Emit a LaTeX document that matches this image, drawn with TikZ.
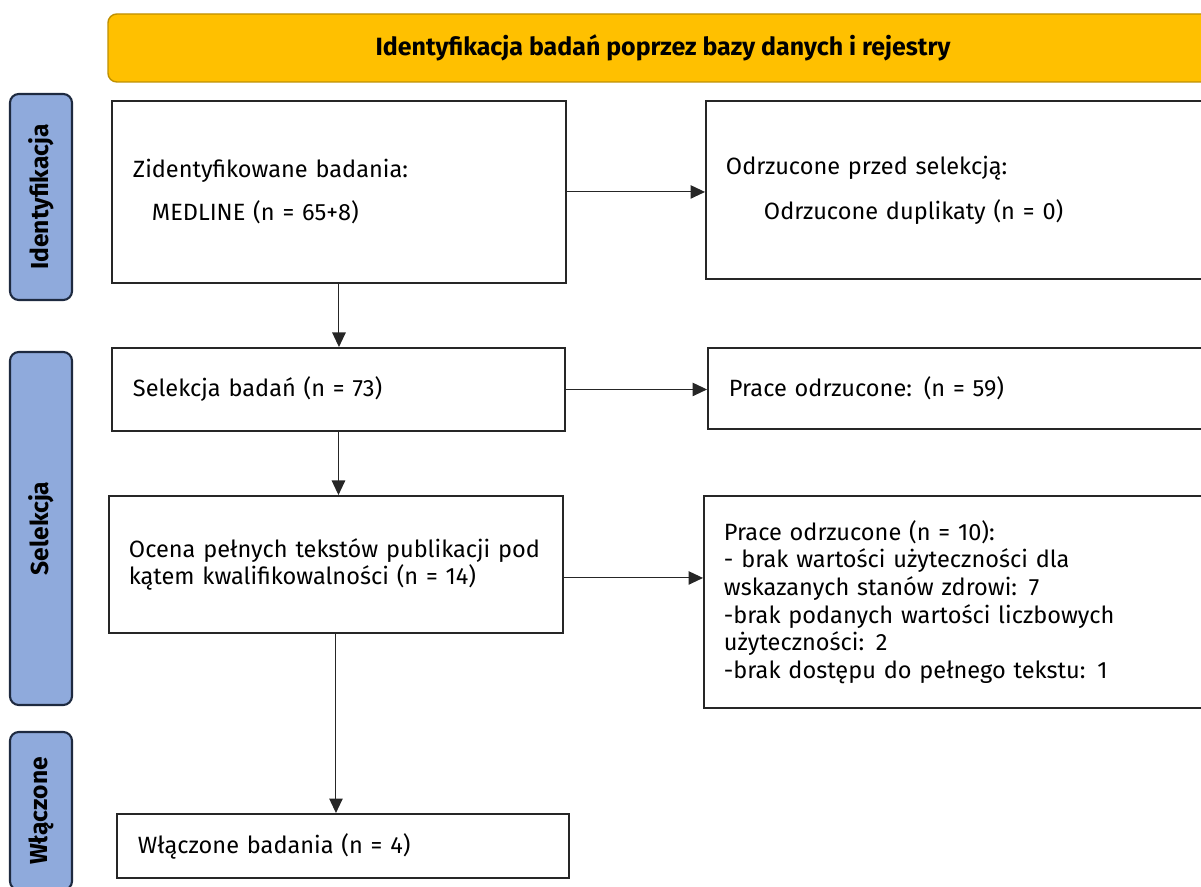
\documentclass[tikz,border=0pt]{standalone}
\usepackage{fontspec}
\setmainfont{Fira Sans}
\usepackage{xcolor}
\usetikzlibrary{arrows.meta,positioning}
\definecolor{bannergold}{HTML}{FFC000}
\definecolor{bannerrim}{HTML}{BF9000}
\definecolor{phaseblue}{HTML}{8FAADC}
\definecolor{phaserim}{HTML}{1E2A40}

\begin{document}
\begin{tikzpicture}[x=1cm,y=1cm,
  font=\fontsize{13.4}{15.7}\selectfont,
  banner/.style={draw=bannerrim,fill=bannergold,line width=.8pt,rounded corners=5pt,
    font=\fontsize{14.2}{16}\selectfont\bfseries},
  phase/.style={draw=phaserim,fill=phaseblue,line width=1.2pt,rounded corners=5pt,
    rotate=90,font=\fontsize{14}{16}\selectfont\bfseries},
  stage/.style={draw=black!85,line width=1.1pt,anchor=north west,align=left,
    inner xsep=.42cm},
  flow/.style={-{Triangle[length=2.9mm,width=2.7mm]},draw=black!85,line width=.6pt}
]
 \path[use as bounding box] (0,0) rectangle (24.02,17.72);
 \clip (0,0) rectangle (24.02,17.72);

 % Header bar and the three phase tabs on the left.
 \node[banner,minimum width=22.2cm,minimum height=1.36cm] (head) at (13.26,16.76)
   {Identyfikacja badań poprzez bazy danych i rejestry};
 \node[phase,minimum width=4.12cm,minimum height=1.24cm] (tabid) at (.82,13.78) {Identyfikacja};
 \node[phase,minimum width=7.06cm,minimum height=1.24cm] (tabsel) at (.82,7.15) {Selekcja};
 \node[phase,minimum width=3.16cm,minimum height=1.24cm] (tabinc) at (.82,1.50) {Włączone};

 % Main column.
 \node[stage,text width=8.24cm,minimum height=3.64cm] (ident) at (2.22,15.72)
   {Zidentyfikowane badania:\\[8.8pt]\hspace*{.38cm}MEDLINE (n = 65+8)};
 \node[stage,text width=8.22cm,minimum height=1.66cm] (screen) at (2.22,10.78)
   {Selekcja badań (n = 73)};
 \node[stage,text width=8.28cm,minimum height=2.74cm,inner xsep=.40cm] (full) at (2.16,7.82)
   {Ocena pełnych tekstów publikacji pod\\kątem kwalifikowalności (n = 14)};
 \node[stage,text width=8.20cm,minimum height=1.28cm] (incl) at (2.32,1.46)
   {Włączone badania (n = 4)};

 % Excluded records, cut by the right edge.
 \node[stage,text width=9.66cm,minimum height=3.56cm,inner xsep=.40cm] (excla) at (14.10,15.72)
   {Odrzucone przed selekcją:\\[9.9pt]\hspace*{.76cm}Odrzucone duplikaty (n = 0)};
 \node[stage,text width=9.62cm,minimum height=1.62cm] (exclb) at (14.14,10.78)
   {Prace odrzucone: (n = 59)};
 \node[stage,text width=9.74cm,minimum height=4.24cm,inner xsep=.40cm] (exclc) at (14.06,7.82)
   {Prace odrzucone (n = 10):\\
    - brak wartości użyteczności dla\\
    wskazanych stanów zdrowi: 7\\
    -brak podanych wartości liczbowych\\
    użyteczności: 2\\
    -brak dostępu do pełnego tekstu: 1};

 \draw[flow] (ident.south) -- (ident.south |- screen.north);
 \draw[flow] (screen.south) -- (screen.south |- full.north);
 \draw[flow] (full.south) -- (full.south |- incl.north);

 \draw[flow] (ident.east) -- (ident.east -| excla.west);
 \draw[flow] (screen.east) -- (screen.east -| exclb.west);
 \draw[flow] ([yshift=-.27cm]full.east) -- ([yshift=-.27cm]full.east -| exclc.west);
\end{tikzpicture}
\end{document}
